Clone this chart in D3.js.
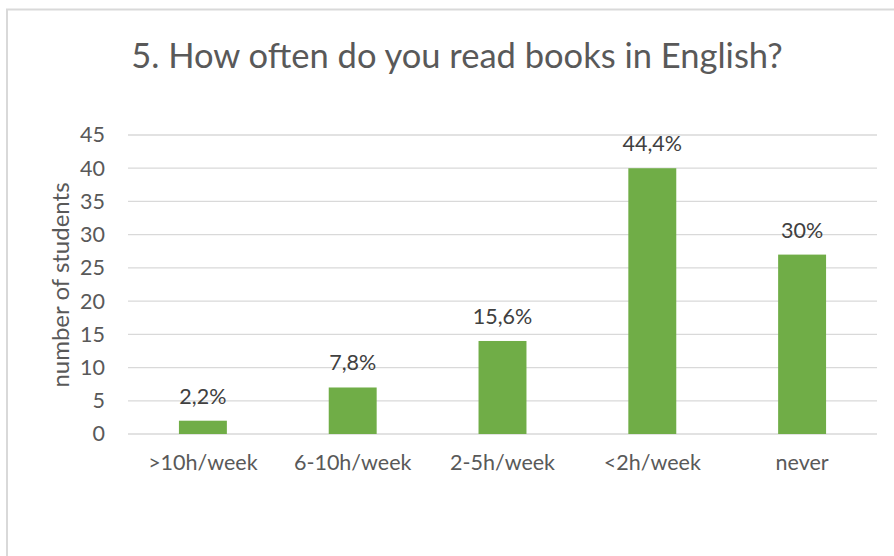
<!DOCTYPE html>
<html>
<head>
<meta charset="utf-8">
<script src="https://cdn.jsdelivr.net/npm/d3@7/dist/d3.min.js"></script>
<style>
  html, body { margin: 0; padding: 0; background: #fff; }
  svg { display: block; }
  text { font-family: Lato, "Open Sans", sans-serif; }
</style>
</head>
<body>
<svg id="chart" width="894" height="556"></svg>
<script>
// Survey answers: how often students read books in English
const categories = [">10h/week", "6-10h/week", "2-5h/week", "<2h/week", "never"];
const students = [2, 7, 14, 40, 27];
const shareLabels = ["2,2%", "7,8%", "15,6%", "44,4%", "30%"];
const yTicks = [0, 5, 10, 15, 20, 25, 30, 35, 40, 45];

const svg = d3.select("#chart");
const W = 894, H = 556;
const margin = { left: 128, right: 17, top: 135, bottom: 122 };
const plotW = W - margin.left - margin.right;
const plotH = H - margin.top - margin.bottom;
const FONT = "Lato, 'Open Sans', sans-serif";

// chart frame
svg.append("rect")
  .attr("x", 7).attr("y", 9.5)
  .attr("width", W + 10).attr("height", H + 10)
  .attr("fill", "none")
  .attr("stroke", "#d9d9d9")
  .attr("stroke-width", 2);

// title
svg.append("text")
  .attr("x", 457).attr("y", 68)
  .attr("text-anchor", "middle")
  .attr("fill", "#595959")
  .attr("font-size", 34.5)
  .text("5. How often do you read books in English?");

const g = svg.append("g").attr("transform", `translate(${margin.left},${margin.top})`);

const x = d3.scaleBand().domain(categories).range([0, plotW]).paddingInner(0.68).paddingOuter(0.34);
const y = d3.scaleLinear().domain([0, 45]).range([plotH, 0]);

// horizontal gridlines
g.append("g")
  .selectAll("line")
  .data(yTicks)
  .join("line")
  .attr("x1", 0).attr("x2", plotW)
  .attr("y1", d => y(d)).attr("y2", d => y(d))
  .attr("stroke", "#d9d9d9")
  .attr("stroke-width", 1.3);

// y axis labels
const yAxis = g.append("g")
  .call(d3.axisLeft(y).tickValues(yTicks).tickSize(0).tickPadding(23));
yAxis.select(".domain").remove();
yAxis.selectAll("text")
  .attr("fill", "#595959")
  .attr("font-size", 21.5)
  .style("font-family", FONT);

// x axis labels
const xAxis = g.append("g")
  .attr("transform", `translate(0,${plotH})`)
  .call(d3.axisBottom(x).tickSize(0).tickPadding(21));
xAxis.select(".domain").remove();
xAxis.selectAll("text")
  .attr("fill", "#595959")
  .attr("font-size", 21.5)
  .style("font-family", FONT);

// bars
g.append("g")
  .selectAll("rect")
  .data(categories)
  .join("rect")
  .attr("x", d => x(d))
  .attr("width", x.bandwidth())
  .attr("y", (d, i) => y(students[i]))
  .attr("height", (d, i) => y(0) - y(students[i]))
  .attr("fill", "#70ad47");

// share labels above bars
g.append("g")
  .selectAll("text")
  .data(categories)
  .join("text")
  .attr("x", d => x(d) + x.bandwidth() / 2)
  .attr("y", (d, i) => y(students[i]) - 17)
  .attr("text-anchor", "middle")
  .attr("fill", "#404040")
  .attr("font-size", 21.5)
  .text((d, i) => shareLabels[i]);

// y axis title
svg.append("text")
  .attr("transform", "translate(69,285) rotate(-90)")
  .attr("text-anchor", "middle")
  .attr("fill", "#595959")
  .attr("font-size", 24)
  .text("number of students");
</script>
</body>
</html>
